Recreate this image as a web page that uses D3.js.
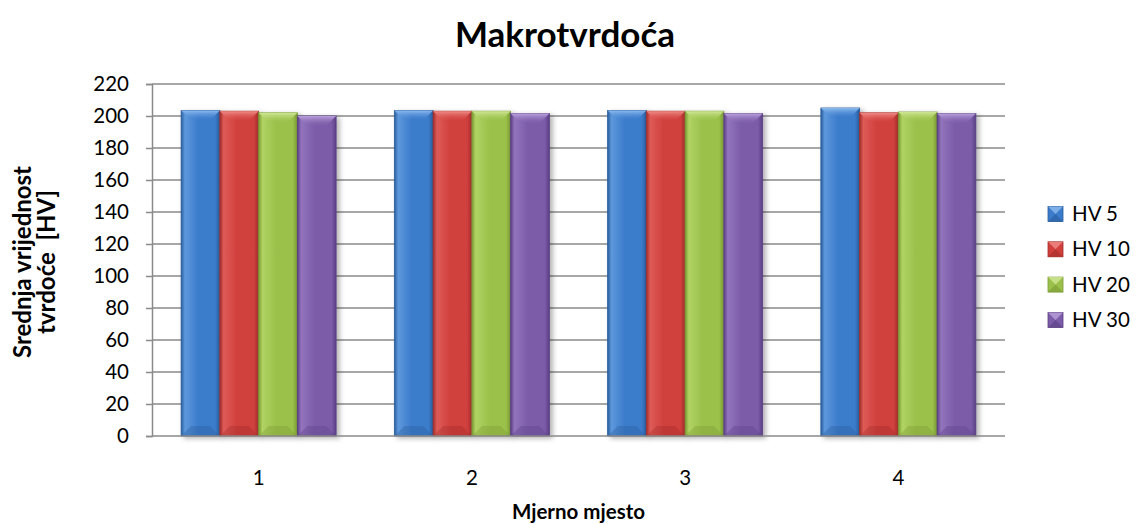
<!DOCTYPE html>
<html>
<head>
<meta charset="utf-8">
<script src="https://cdn.jsdelivr.net/npm/d3@7"></script>
<style>
  html, body { margin: 0; padding: 0; background: #fff; }
  svg { display: block; font-family: Lato, "Open Sans", sans-serif; }
</style>
</head>
<body>
<svg id="chart" width="1137" height="524"></svg>
<script>
const categories = ["1", "2", "3", "4"];
const seriesNames = ["HV 5", "HV 10", "HV 20", "HV 30"];
const hv5  = [203.5, 203.5, 203.5, 205];
const hv10 = [203, 203, 203, 202];
const hv20 = [202, 203, 203, 202.5];
const hv30 = [200, 201.5, 201.5, 201.5];
const yTicks = [0, 20, 40, 60, 80, 100, 120, 140, 160, 180, 200, 220];
const titleText = "Makrotvrdoća";
const xTitle = "Mjerno mjesto";
const yTitleLines = ["Srednja vrijednost", "tvrdoće  [HV]"];

const seriesValues = [hv5, hv10, hv20, hv30];
const palette = [
  { dark: "#2a5d9c", mid: "#3b7bcb", light: "#5d98dc", top: "#8dbbef" },
  { dark: "#a12e2c", mid: "#d03f3c", light: "#de5b57", top: "#f08c88" },
  { dark: "#7a9934", mid: "#9bc14b", light: "#b0d363", top: "#cfe795" },
  { dark: "#5a3f84", mid: "#7c5ca9", light: "#9273bc", top: "#b9a1dc" }
];

const svg = d3.select("#chart");
const m = { left: 152, right: 1005, top: 84, bottom: 436 };

const defs = svg.append("defs");
palette.forEach((c, i) => {
  const g = defs.append("linearGradient").attr("id", "g" + i)
    .attr("x1", "0").attr("x2", "1").attr("y1", "0").attr("y2", "0");
  g.append("stop").attr("offset", "0%").attr("stop-color", c.dark);
  g.append("stop").attr("offset", "10%").attr("stop-color", c.light);
  g.append("stop").attr("offset", "45%").attr("stop-color", c.mid);
  g.append("stop").attr("offset", "88%").attr("stop-color", c.mid);
  g.append("stop").attr("offset", "100%").attr("stop-color", c.dark);
  const t = defs.append("linearGradient").attr("id", "t" + i)
    .attr("x1", "0").attr("x2", "0").attr("y1", "0").attr("y2", "1");
  t.append("stop").attr("offset", "0%").attr("stop-color", c.top);
  t.append("stop").attr("offset", "100%").attr("stop-color", c.mid).attr("stop-opacity", 0.2);
});
const f = defs.append("filter").attr("id", "shadow")
  .attr("x", "-20%").attr("y", "-5%").attr("width", "150%").attr("height", "115%");
f.append("feDropShadow").attr("dx", 3).attr("dy", 2).attr("stdDeviation", 2.5)
  .attr("flood-color", "#000").attr("flood-opacity", 0.3);

const x0 = d3.scaleBand().domain(categories).range([m.left, m.right])
  .paddingInner(0.273).paddingOuter(0.1365);
const x1 = d3.scaleBand().domain(seriesNames).range([0, x0.bandwidth()]).padding(0);
const y = d3.scaleLinear().domain([0, 220]).range([m.bottom, m.top]);

// gridlines
svg.append("g").selectAll("line").data(yTicks.filter(t => t > 0)).join("line")
  .attr("x1", m.left).attr("x2", m.right)
  .attr("y1", d => y(d)).attr("y2", d => y(d))
  .attr("stroke", "#8a8a8a").attr("stroke-width", 1.5);

// y axis
const yAxis = svg.append("g").attr("transform", `translate(${m.left},0)`)
  .call(d3.axisLeft(y).tickValues(yTicks).tickSize(6).tickPadding(17).tickFormat(d3.format("d")));
yAxis.select(".domain").attr("stroke", "#8a8a8a").attr("stroke-width", 1.5);
yAxis.selectAll(".tick line").attr("stroke", "#8a8a8a").attr("stroke-width", 1.5);
yAxis.selectAll(".tick text").attr("font-size", 20.5).attr("fill", "#000")
  .attr("font-family", "Lato, sans-serif");

// bars
const groups = svg.append("g").selectAll("g").data(categories).join("g")
  .attr("transform", d => `translate(${x0(d)},0)`);
const bw = x1.bandwidth();
groups.each(function(cat, ci) {
  const g = d3.select(this);
  seriesNames.forEach((s, si) => {
    const v = seriesValues[si][ci];
    const bx = x1(s), by = y(v), bh = y(0) - y(v);
    const bar = g.append("g").attr("filter", "url(#shadow)");
    bar.append("rect").attr("x", bx).attr("y", by).attr("width", bw).attr("height", bh)
      .attr("fill", `url(#g${si})`).attr("stroke", palette[si].dark).attr("stroke-width", 0.8);
    const bev = 10;
    bar.append("path")
      .attr("d", `M${bx},${by} L${bx + bw},${by} L${bx + bw - bev},${by + bev} L${bx + bev},${by + bev} Z`)
      .attr("fill", `url(#t${si})`);
    bar.append("path")
      .attr("d", `M${bx},${by + bh} L${bx + bw},${by + bh} L${bx + bw - bev},${by + bh - bev} L${bx + bev},${by + bh - bev} Z`)
      .attr("fill", palette[si].dark).attr("opacity", 0.35);
  });
});

// x axis
svg.append("line").attr("x1", m.left).attr("x2", m.right)
  .attr("y1", m.bottom).attr("y2", m.bottom)
  .attr("stroke", "#8a8a8a").attr("stroke-width", 1.5);
svg.append("g").selectAll("text").data(categories).join("text")
  .attr("x", d => x0(d) + x0.bandwidth() / 2).attr("y", 485)
  .attr("text-anchor", "middle").attr("font-size", 20.5).text(d => d);

// titles
svg.append("text").attr("x", 565).attr("y", 47).attr("text-anchor", "middle")
  .attr("font-size", 35).attr("font-weight", "bold").text(titleText);
svg.append("text").attr("x", (m.left + m.right) / 2).attr("y", 519).attr("text-anchor", "middle")
  .attr("font-size", 20.5).attr("font-weight", "bold").text(xTitle);
const yt = svg.append("text").attr("transform", "translate(0,262) rotate(-90)")
  .attr("text-anchor", "middle").attr("font-size", 24).attr("font-weight", "bold");
yTitleLines.forEach((l, i) => {
  yt.append("tspan").attr("x", 0).attr("y", 31 + i * 24).attr("xml:space", "preserve").text(l);
});

// legend
const lg = svg.append("g").selectAll("g").data(seriesNames).join("g")
  .attr("transform", (d, i) => `translate(1048,${214 + i * 35.3})`);
lg.append("rect").attr("x", 0).attr("y", -7.5).attr("width", 15).attr("height", 15)
  .attr("fill", (d, i) => palette[i].mid).attr("stroke", (d, i) => palette[i].dark).attr("stroke-width", 0.8);
lg.append("path").attr("d", "M0,-7.5 L15,-7.5 L7.5,0 Z").attr("fill", (d, i) => palette[i].top).attr("opacity", 0.8);
lg.append("path").attr("d", "M0,7.5 L15,7.5 L7.5,0 Z").attr("fill", (d, i) => palette[i].dark).attr("opacity", 0.6);
lg.append("text").attr("x", 24).attr("y", 7).attr("font-size", 20.5).text(d => d);
</script>
</body>
</html>
